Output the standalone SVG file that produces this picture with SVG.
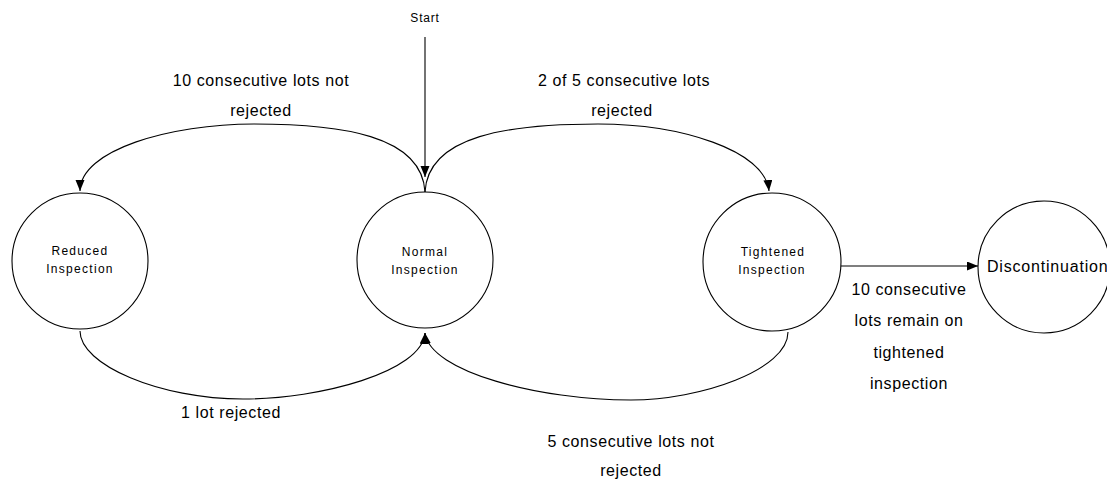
<svg xmlns="http://www.w3.org/2000/svg" width="1107" height="479" viewBox="0 0 1107 479">
<style>
.node{fill:#fff;stroke:#000;stroke-width:1.1}
.edge{fill:none;stroke:#000;stroke-width:1.1}
.nl{font-family:"Liberation Sans",Arial,sans-serif;font-size:12px;letter-spacing:1.3px;text-anchor:middle;fill:#000}
.el{font-family:"Liberation Sans",Arial,sans-serif;font-size:16px;letter-spacing:0.6px;text-anchor:middle;fill:#000}
</style>
<defs>
<marker id="arr" markerUnits="userSpaceOnUse" markerWidth="12" markerHeight="10" refX="11" refY="4.5" orient="auto">
<path d="M0,0 L11,4.5 L0,9 z" fill="#000"/>
</marker>
</defs>
<rect width="1107" height="479" fill="#fff"/>
<g id="nodes">
<g id="reduced">
<circle class="node" cx="80" cy="261" r="68"/>
<text class="nl" x="80" y="255">Reduced</text>
<text class="nl" x="80" y="273">Inspection</text>
</g>
<g id="normal">
<circle class="node" cx="425" cy="260" r="68"/>
<text class="nl" x="425" y="256">Normal</text>
<text class="nl" x="425" y="274">Inspection</text>
</g>
<g id="tightened">
<circle class="node" cx="772" cy="262" r="69"/>
<text class="nl" x="773" y="256">Tightened</text>
<text class="nl" x="772" y="274">Inspection</text>
</g>
<g id="discontinuation">
<circle class="node" cx="1044" cy="267" r="66"/>
<text x="987" y="272" font-family="Liberation Sans, Arial, sans-serif" font-size="16" letter-spacing="0.8" fill="#000">Discontinuation</text>
</g>
</g>
<g id="connectors">
<line class="edge" x1="425" y1="37" x2="425" y2="177" marker-end="url(#arr)"/>
<path class="edge" d="M425 192 C422 135,340 124,254 124 C170 124,80 150,80 191" marker-end="url(#arr)"/>
<path class="edge" d="M425 192 C428 135,510 124,598 124 C680 124,765 150,769 191" marker-end="url(#arr)"/>
<path class="edge" d="M80 331 C80 365,160 399,243 399 C320 399,422 372,425 333" marker-end="url(#arr)"/>
<path class="edge" d="M788 332 C788 370,700 400,631 400 C540 400,430 372,425 333" marker-end="url(#arr)"/>
<line class="edge" x1="841" y1="266" x2="978" y2="266" marker-end="url(#arr)"/>
</g>
<g id="labels">
<text x="425" y="22" font-family="Liberation Sans, Arial, sans-serif" font-size="12" letter-spacing="0.8" text-anchor="middle" fill="#000">Start</text>
<text class="el" x="261" y="86">10 consecutive lots not</text>
<text class="el" x="261" y="116">rejected</text>
<text class="el" x="624" y="86">2 of 5 consecutive lots</text>
<text class="el" x="622" y="116">rejected</text>
<text class="el" x="231" y="418">1 lot rejected</text>
<text class="el" x="631" y="447">5 consecutive lots not</text>
<text class="el" x="631" y="476">rejected</text>
<text class="el" x="909" y="295">10 consecutive</text>
<text class="el" x="909" y="326">lots remain on</text>
<text class="el" x="909" y="358">tightened</text>
<text class="el" x="909" y="389">inspection</text>
</g>
</svg>
